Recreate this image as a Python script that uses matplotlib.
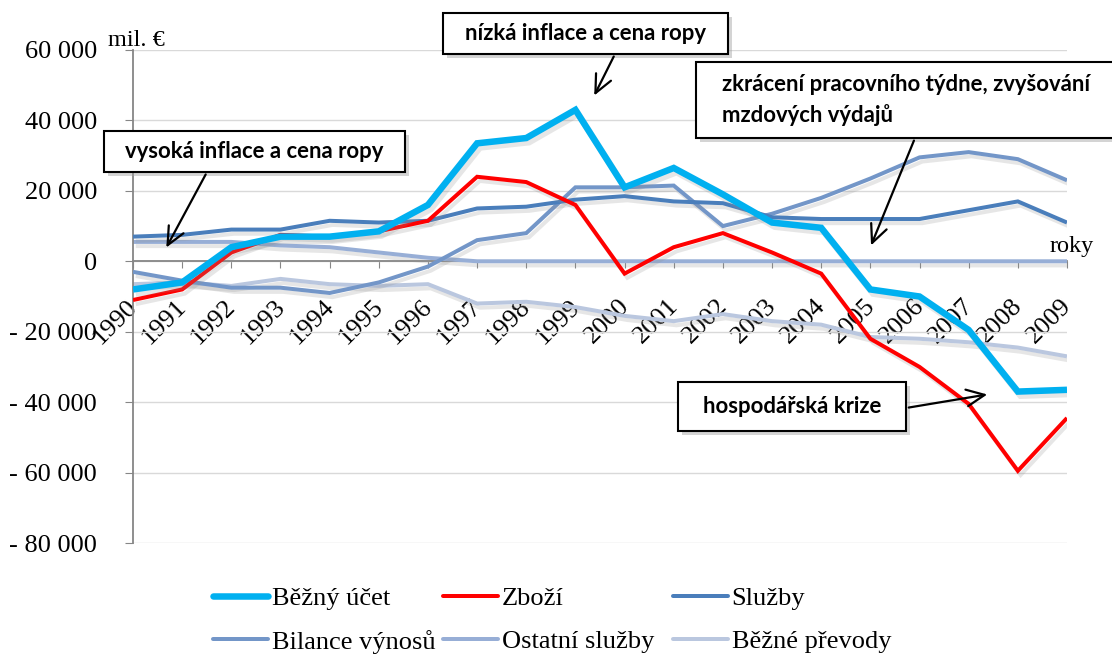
import matplotlib
matplotlib.use("Agg")
import matplotlib.pyplot as plt
import matplotlib.patheffects as pe
import matplotlib.transforms as mtransforms
from matplotlib.patches import Rectangle, FancyArrowPatch
import numpy as np

years = [str(y) for y in range(1990, 2010)]
bezny_ucet = [-8000, -6000, 4000, 7000, 7000, 8500, 16000, 33500, 35000, 43000,
              21000, 26500, 19000, 11000, 9500, -8000, -10000, -19500, -37000, -36500]
zbozi = [-11000, -8000, 2500, 7500, 7000, 8500, 11500, 24000, 22500, 16000,
         -3500, 4000, 8000, 2500, -3500, -22000, -30000, -40500, -59500, -44500]
sluzby = [7000, 7500, 9000, 9000, 11500, 11000, 11500, 15000, 15500, 17500,
          18500, 17000, 16500, 12500, 12000, 12000, 12000, 14500, 17000, 11000]
bilance_vynosu = [-3000, -5500, -7500, -7500, -9000, -6000, -1500, 6000, 8000, 21000,
                  21000, 21500, 10000, 13500, 18000, 23500, 29500, 31000, 29000, 23000]
ostatni_sluzby = [5500, 5500, 5500, 4500, 4000, 2500, 1000, 0, 0, 0,
                  0, 0, 0, 0, 0, 0, 0, 0, 0, 0]
bezne_prevody = [-6500, -6000, -7000, -5000, -6500, -7000, -6500, -12000, -11500, -13000,
                 -15500, -17000, -15000, -17000, -18000, -21500, -22000, -23000, -24500, -27000]

y_ticks = [60000, 40000, 20000, 0, -20000, -40000, -60000, -80000]
y_labels = ["60 000", "40 000", "20 000", "0", "- 20 000", "- 40 000", "- 60 000", "- 80 000"]

serif = "Liberation Serif"
sans = "Lato"

W, H = 1112, 655
fig = plt.figure(figsize=(W / 100, H / 100), dpi=100)
ax = fig.add_axes([133 / W, 1 - 543 / H, (1067 - 133) / W, (543 - 50) / H])

x = np.arange(len(years))
shadow = [pe.SimpleLineShadow(offset=(2, -3), shadow_color="#909090", alpha=0.22), pe.Normal()]

series = [
    ("Bilance výnosů", bilance_vynosu, "#7396C8", 4.0, 3),
    ("Ostatní služby", ostatni_sluzby, "#97AED6", 4.0, 2),
    ("Běžné převody", bezne_prevody, "#BAC7DF", 4.0, 2),
    ("Služby", sluzby, "#4A7EBB", 4.0, 4),
    ("Zboží", zbozi, "#FF0000", 4.0, 5),
    ("Běžný účet", bezny_ucet, "#00B0F0", 6.5, 6),
]
handles = {}
for name, vals, col, lw, z in series:
    (ln,) = ax.plot(x, vals, color=col, lw=lw * 0.72, zorder=z, solid_capstyle="butt",
                    solid_joinstyle="miter", path_effects=shadow)
    handles[name] = ln

ax.set_xlim(0, len(years) - 1)
ax.set_ylim(-80000, 60000)
ax.set_yticks(y_ticks)
ax.set_yticklabels(y_labels, fontfamily=serif, fontsize=19)
ax.yaxis.grid(True, color="#D9D9D9", lw=1.0)
ax.set_axisbelow(True)

for s in ["top", "right"]:
    ax.spines[s].set_visible(False)
ax.spines["left"].set_color("#868686")
ax.spines["left"].set_linewidth(1.3)
ax.spines["bottom"].set_position(("data", 0))
ax.spines["bottom"].set_color("#868686")
ax.spines["bottom"].set_linewidth(1.3)
ax.spines["bottom"].set_zorder(1)
ax.tick_params(axis="y", direction="out", length=6, color="#868686", pad=20)
ax.tick_params(axis="x", direction="out", length=5, color="#868686", pad=25)

ax.set_xticks(x)
ax.set_xticklabels(years, fontfamily=serif, fontsize=19, rotation=45,
                   ha="right", va="center", rotation_mode="anchor")
shift = mtransforms.ScaledTranslation(1 / 100, 0, fig.dpi_scale_trans)
for lab in ax.get_xticklabels():
    lab.set_zorder(7)
    lab.set_transform(lab.get_transform() + shift)

fig.text(108 / W, 1 - 46 / H, "mil. €", fontfamily=serif, fontsize=17.5, va="baseline", ha="left")
fig.text(1050 / W, 1 - 252 / H, "roky", fontfamily=serif, fontsize=17.5, va="baseline", ha="left")

# fit annotation font size to the reference text width
renderer = fig.canvas.get_renderer()
probe = fig.text(0, 0, "vysoká inflace a cena ropy", fontfamily=sans, fontweight="bold", fontsize=10)
pw = probe.get_window_extent(renderer).width
probe.remove()
box_fs = 10 * 259 / pw


def box(x0, y0, x1, y1, text, tx=None, ha="center", ls=1.0):
    sh = Rectangle((x0 / W + 4 / W, 1 - y1 / H - 4 / H), (x1 - x0) / W, (y1 - y0) / H,
                   transform=fig.transFigure, facecolor="#A0A0A0", alpha=0.45,
                   edgecolor="none", zorder=9)
    r = Rectangle((x0 / W, 1 - y1 / H), (x1 - x0) / W, (y1 - y0) / H,
                  transform=fig.transFigure, facecolor="white", edgecolor="black",
                  lw=1.5, zorder=10)
    fig.patches.extend([sh, r])
    xx = (x0 + x1) / 2 if tx is None else tx
    fig.text(xx / W, 1 - (y0 + y1) / 2 / H, text, fontfamily=sans, fontweight="bold",
             fontsize=box_fs, ha=ha, va="center", zorder=11, linespacing=ls)


def arrow(x0, y0, x1, y1):
    fig.add_artist(FancyArrowPatch(
        (x0 / W, 1 - y0 / H), (x1 / W, 1 - y1 / H), transform=fig.transFigure,
        arrowstyle="->,head_length=13,head_width=6", mutation_scale=1,
        color="black", lw=1.6, zorder=12))


box(443, 13, 728, 54, "nízká inflace a cena ropy")
arrow(615, 54, 593, 98)
box(696, 62, 1130, 138, "zkrácení pracovního týdne, zvyšování\nmzdových výdajů",
    tx=722, ha="left", ls=1.45)
arrow(915, 138, 870, 248)
box(104, 131, 405, 172, "vysoká inflace a cena ropy")
arrow(207, 172, 165, 250)
box(678, 382, 906, 431, "hospodářská krize")
arrow(906, 408, 990, 394)

# legend: three columns, two rows
columns = [(213, ["Běžný účet", "Bilance výnosů"]),
           (443, ["Zboží", "Ostatní služby"]),
           (673, ["Služby", "Běžné převody"])]
fs_leg = 19
for cx, names in columns:
    leg = fig.legend([handles[n] for n in names], names, loc="center left",
                     bbox_to_anchor=(cx / W, 1 - 620 / H), frameon=False,
                     prop={"family": serif, "size": fs_leg}, handlelength=2.1,
                     handletextpad=0.12, labelspacing=0.75, borderpad=0, borderaxespad=0)
    for lh in leg.get_lines():
        lh.set_path_effects([])
        lh.set_solid_capstyle("round")

fig.savefig("out.png", dpi=100)
